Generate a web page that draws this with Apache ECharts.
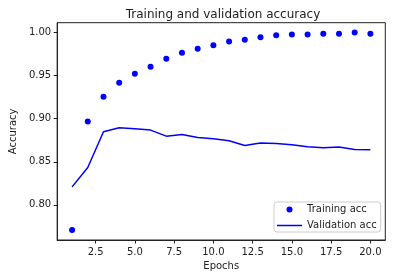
<!DOCTYPE html>
<html>
<head>
<meta charset="utf-8">
<script src="https://cdn.jsdelivr.net/npm/echarts@6/dist/echarts.min.js"></script>
<style>
html,body{margin:0;padding:0;background:#fff;}
#chart{width:395px;height:278px;}
</style>
</head>
<body>
<div id="chart"></div>
<script>
const epochs = [1,2,3,4,5,6,7,8,9,10,11,12,13,14,15,16,17,18,19,20];
const trainingAcc = [0.7707,0.8969,0.9256,0.9419,0.9523,0.9604,0.9697,0.9767,0.9813,0.9852,0.9898,0.9918,0.9945,0.9968,0.9977,0.9977,0.9988,0.9988,1.0000,0.9988];
const validationAcc = [0.8209,0.8434,0.8849,0.8896,0.8884,0.8868,0.8798,0.8818,0.8783,0.8768,0.8745,0.8690,0.8717,0.8713,0.8698,0.8675,0.8663,0.8671,0.8644,0.8640];
const xTicks = [2.5,5.0,7.5,10.0,12.5,15.0,17.5,20.0];
const yTicks = [0.80,0.85,0.90,0.95,1.00];

const FONT = 'DejaVu Sans';
const TXT = '#222';
const chart = echarts.init(document.getElementById('chart'), null, {renderer:'canvas'});
chart.setOption({
  animation: false,
  backgroundColor: '#fff',
  textStyle: {fontFamily: FONT},
  title: {
    text: 'Training and validation accuracy',
    left: 218, top: 4, textAlign: 'center',
    textStyle: {fontFamily: FONT, fontSize: 12, fontWeight: 'normal', color: TXT}
  },
  grid: {
    left: 50.3, right: 9.7, top: 22.7, bottom: 38,
    show: true, borderColor: '#222', borderWidth: 1, backgroundColor: 'transparent',
    containLabel: false
  },
  legend: {
    orient: 'vertical',
    left: 274, top: 202,
    itemWidth: 25, itemHeight: 6, itemGap: 5,
    padding: [2, 4, 1, 3],
    borderColor: '#cccccc', borderWidth: 1, borderRadius: 3,
    backgroundColor: 'rgba(255,255,255,0.8)',
    textStyle: {fontFamily: FONT, fontSize: 10, color: TXT, lineHeight: 11},
    data: [
      {name: 'Training acc', icon: 'circle', itemStyle: {color: '#0000ff', opacity: 1}},
      {name: 'Validation acc', icon: 'path://M0,0 L25,0 L25,1.5 L0,1.5 Z', itemStyle: {color: '#0000ff'}}
    ]
  },
  xAxis: {
    type: 'value', min: 0.05, max: 20.95,
    name: 'Epochs', nameLocation: 'middle', nameGap: 20,
    nameTextStyle: {fontFamily: FONT, fontSize: 10, color: TXT},
    splitLine: {show: false},
    axisLine: {show: true, lineStyle: {color: '#222', width: 1}},
    axisTick: {show: true, length: 3.5, customValues: xTicks, lineStyle: {color: '#222', width: 1}},
    axisLabel: {show: true, margin: 7, customValues: xTicks, fontFamily: FONT, fontSize: 10, color: TXT,
      formatter: v => Number(v).toFixed(1)}
  },
  yAxis: {
    type: 'value', min: 0.7592, max: 1.0115,
    name: 'Accuracy', nameLocation: 'middle', nameGap: 34, nameRotate: 90,
    nameTextStyle: {fontFamily: FONT, fontSize: 10, color: TXT},
    splitLine: {show: false},
    axisLine: {show: true, lineStyle: {color: '#222', width: 1}},
    axisTick: {show: true, length: 3.5, customValues: yTicks, lineStyle: {color: '#222', width: 1}},
    axisLabel: {show: true, margin: 6, customValues: yTicks, fontFamily: FONT, fontSize: 10, color: TXT,
      formatter: v => Number(v).toFixed(2)}
  },
  series: [
    {
      name: 'Training acc', type: 'scatter',
      data: epochs.map((e, i) => [e, trainingAcc[i]]),
      symbol: 'circle', symbolSize: 6,
      itemStyle: {color: '#0000ff', opacity: 1}
    },
    {
      name: 'Validation acc', type: 'line',
      data: epochs.map((e, i) => [e, validationAcc[i]]),
      symbol: 'none', showSymbol: false,
      lineStyle: {color: '#0000ff', width: 1.5},
      itemStyle: {color: '#0000ff'}
    }
  ]
});
</script>
</body>
</html>
